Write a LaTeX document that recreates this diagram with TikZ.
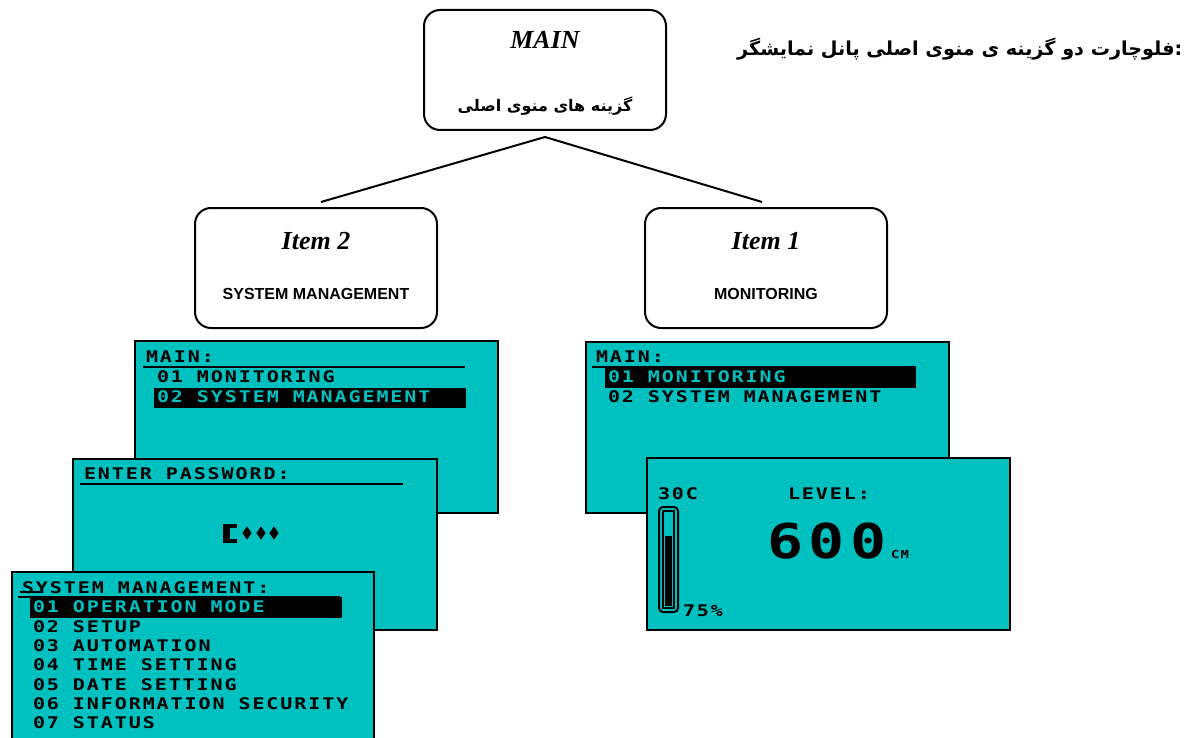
\documentclass[tikz,border=0pt]{standalone}
\usepackage{fontspec}
\setmainfont{Liberation Serif}
\setsansfont{Liberation Sans}
\newfontfamily\farsi[Script=Arabic]{DejaVu Sans}
\newfontfamily\lcd[FakeStretch=1.25,LetterSpace=12]{DejaVu Sans Mono}
\usepackage{tikz}
\usetikzlibrary{shapes.geometric}
\definecolor{lcdcyan}{RGB}{0,192,192}
\TeXXeTstate=1

\begin{document}
\begin{tikzpicture}[x=0.5pt,y=-0.5pt,line width=1pt]
      \tikzstyle{itembox}=[draw, rounded corners=8pt, minimum width=121pt,
        minimum height=60pt]
      \tikzstyle{screen}=[draw, fill=lcdcyan, anchor=north west, inner sep=0pt]
      \tikzstyle{hilite}=[fill=black, anchor=north west, inner sep=0pt]
      \tikzstyle{lcdtext}=[anchor=west, inner sep=0pt,
        font=\lcd\bfseries\fontsize{8}{8}\selectfont]
      \tikzstyle{heading}=[font=\bfseries\itshape\fontsize{13}{13}\selectfont]
      \tikzstyle{caption}=[font=\sffamily\bfseries\fontsize{8}{8}\selectfont]
      \tikzstyle{farsitext}=[font=\farsi\bfseries\fontsize{8}{8}\selectfont]
      \useasboundingbox (0,0) rectangle (1200,738);

      \node[farsitext, anchor=east, font=\farsi\bfseries\fontsize{9.6}{9.6}\selectfont]
        (title) at (1190,49) {\beginR فلوچارت دو گزینه ی منوی اصلی پانل نمایشگر\endR:};

      \node[itembox] (main) at (545,70) {};
      \node[heading] (mainname) at (545,40) {MAIN};
      \node[farsitext] (mainsub) at (545,106) {\beginR گزینه های منوی اصلی\endR};

      \node[itembox] (item2) at (316,268) {};
      \node[heading] (item2name) at (316,241) {Item 2};
      \node[caption] (item2sub) at (316,294) {SYSTEM MANAGEMENT};

      \node[itembox] (item1) at (766,268) {};
      \node[heading] (item1name) at (766,241) {Item 1};
      \node[caption] (item1sub) at (766,294) {MONITORING};

      \coordinate (fork) at ([yshift=-3pt]main.south);
      \coordinate (to2) at ([xshift=2.5pt,yshift=2.5pt]item2.north);
      \coordinate (to1) at ([xshift=-2pt,yshift=2.5pt]item1.north);
      \draw (to2) -- (fork) -- (to1);

      % left column: main menu, password, system management
      \node[screen, minimum width=181.5pt, minimum height=86pt] (scrA) at (134,340) {};
      \node[lcdtext] (a0) at (145,357) {MAIN:};
      \draw (143,367) -- (465,367);
      \node[lcdtext] (a1) at (156,377) {01 MONITORING};
      \node[hilite, minimum width=156pt, minimum height=10pt] (a2bar) at (153,387) {};
      \node[lcdtext, text=lcdcyan] (a2) at (156,397) {02 SYSTEM MANAGEMENT};

      \node[screen, minimum width=182pt, minimum height=85.5pt] (scrB) at (72,458) {};
      \node[lcdtext] (b0) at (83,474) {ENTER PASSWORD:};
      \draw (80,484) -- (403,484);
      \fill (223,524) rectangle (237,543);
      \fill[lcdcyan] (230,528) rectangle (237,539);
      \foreach \x in {247,261,274}
        \node[diamond, fill, inner sep=0pt, minimum width=5pt,
          minimum height=7pt] (pw\x) at (\x,533) {};

      \node[screen, minimum width=181pt, minimum height=90pt] (scrC) at (11,571) {};
      \node[lcdtext] (c0) at (21,588) {SYSTEM MANAGEMENT:};
      \draw (20,592) -- (43,592);
      \draw (18,597) -- (340,597);
      \node[hilite, minimum width=156pt, minimum height=10.5pt] (c1bar) at (29,596) {};
      \node[lcdtext, text=lcdcyan] (c1) at (32,607) {01 OPERATION MODE};
      \foreach \t [count=\i] in {02 SETUP, 03 AUTOMATION, 04 TIME SETTING,
          05 DATE SETTING, 06 INFORMATION SECURITY, 07 STATUS}
        \node[lcdtext] (c\i) at (32,{607+19.33*\i}) {\t};

      % right column: main menu and level display
      \node[screen, minimum width=181.5pt, minimum height=85.5pt] (scrD) at (585,341) {};
      \node[lcdtext] (d0) at (595,357) {MAIN:};
      \draw (592,367) -- (915,367);
      \node[hilite, minimum width=155.5pt, minimum height=11pt] (d1bar) at (604,365) {};
      \node[lcdtext, text=lcdcyan] (d1) at (607,377) {01 MONITORING};
      \node[lcdtext] (d2) at (607,397) {02 SYSTEM MANAGEMENT};

      \node[screen, minimum width=181.5pt, minimum height=86pt] (scrE) at (646,457) {};
      \node[lcdtext] (temp) at (657,494) {30C};
      \node[lcdtext] (level) at (787,494) {LEVEL:};
      \node[lcdtext, font=\lcd\bfseries\fontsize{24}{24}\selectfont] (value) at (766,541) {600};
      \node[lcdtext, font=\lcd\bfseries\fontsize{5.5}{5.5}\selectfont] (unit) at (890,554) {CM};
      \draw[rounded corners=2pt] (659,507) rectangle (678,612);
      \draw (663,511) rectangle (674,608);
      \fill (665,536) rectangle (672,606);
      \node[lcdtext] (pct) at (682,611) {75\%};
\end{tikzpicture}
\end{document}
